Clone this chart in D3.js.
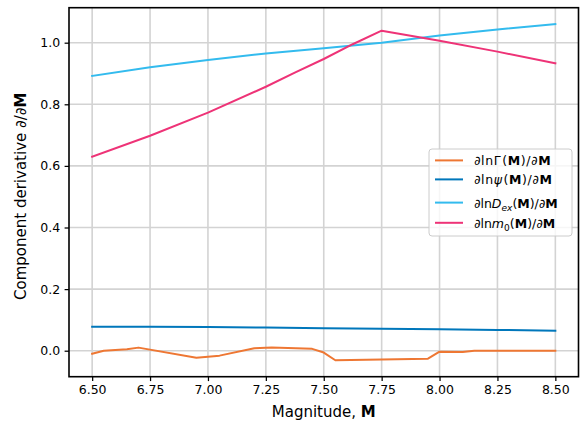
<!DOCTYPE html>
<html>
<head>
<meta charset="utf-8">
<script src="https://cdn.jsdelivr.net/npm/d3@7"></script>
<style>
  html, body { margin: 0; padding: 0; background: #fff; }
  svg { display: block; font-family: "DejaVu Sans", sans-serif; }
</style>
</head>
<body>
<svg id="chart" width="580" height="424"></svg>
<script>
// Magnitude grid shared by the smooth components
const magnitudes = [6.5, 6.75, 7.0, 7.25, 7.5, 7.75, 8.0, 8.25, 8.5];

// d ln psi(M) / dM
const psiDeriv = [0.078, 0.0775, 0.077, 0.075, 0.073, 0.0715, 0.070, 0.0675, 0.065];

// d ln D_ex(M) / dM
const dexDeriv = [0.892, 0.920, 0.944, 0.965, 0.982, 1.000, 1.023, 1.043, 1.060];

// d ln m0(M) / dM (peaks at 7.75)
const m0Mag   = [6.5, 6.75, 7.0, 7.25, 7.375, 7.5, 7.625, 7.75, 8.0, 8.25, 8.5];
const m0Deriv = [0.630, 0.698, 0.773, 0.857, 0.903, 0.947, 0.995, 1.039, 1.006, 0.971, 0.933];

// d ln Gamma(M) / dM (piecewise, noisy)
const gammaMag   = [6.5, 6.55, 6.65, 6.70, 6.95, 7.05, 7.20, 7.275, 7.45, 7.50, 7.55, 7.95, 8.00, 8.10, 8.15, 8.5];
const gammaDeriv = [-0.010, 0.0, 0.005, 0.010, -0.023, -0.016, 0.008, 0.010, 0.006, -0.006, -0.031, -0.026, -0.003, -0.004, 0.0, 0.0];

const xTicks = [6.5, 6.75, 7.0, 7.25, 7.5, 7.75, 8.0, 8.25, 8.5];
const yTicks = [0.0, 0.2, 0.4, 0.6, 0.8, 1.0];

const colors = { gamma: "#EE7733", psi: "#0077BB", dex: "#33BBEE", m0: "#EE3377" };

const svg = d3.select("#chart");
const plot = { left: 69, right: 578.5, top: 7.7, bottom: 376.7 };

const x = d3.scaleLinear().domain([6.4, 8.6]).range([plot.left, plot.right]);
const y = d3.scaleLinear().domain([-0.0844, 1.1136]).range([plot.bottom, plot.top]);

// Grid
const grid = svg.append("g");
grid.selectAll("line.vx").data(xTicks).join("line")
  .attr("x1", d => x(d)).attr("x2", d => x(d))
  .attr("y1", plot.top).attr("y2", plot.bottom)
  .attr("stroke", "#d3d3d3").attr("stroke-width", 1.6);
grid.selectAll("line.hy").data(yTicks).join("line")
  .attr("y1", d => y(d)).attr("y2", d => y(d))
  .attr("x1", plot.left).attr("x2", plot.right)
  .attr("stroke", "#d3d3d3").attr("stroke-width", 1.6);

// Series lines
const line = d3.line().x(d => x(d[0])).y(d => y(d[1]));
const series = [
  { key: "gamma", xs: gammaMag, ys: gammaDeriv },
  { key: "psi",   xs: magnitudes, ys: psiDeriv },
  { key: "dex",   xs: magnitudes, ys: dexDeriv },
  { key: "m0",    xs: m0Mag, ys: m0Deriv }
];
series.forEach(s => {
  svg.append("path")
    .datum(s.xs.map((v, i) => [v, s.ys[i]]))
    .attr("d", line)
    .attr("fill", "none")
    .attr("stroke", colors[s.key])
    .attr("stroke-width", 2)
    .attr("stroke-linejoin", "round")
    .attr("stroke-linecap", "square");
});

// Axes
const xAxis = d3.axisBottom(x).tickValues(xTicks).tickFormat(d3.format(".2f"))
  .tickSize(4.4).tickPadding(4.4);
const yAxis = d3.axisLeft(y).tickValues(yTicks).tickFormat(d3.format(".1f"))
  .tickSize(4.4).tickPadding(4.4);

const gx = svg.append("g").attr("transform", `translate(0,${plot.bottom})`).call(xAxis);
const gy = svg.append("g").attr("transform", `translate(${plot.left},0)`).call(yAxis);
[gx, gy].forEach(g => {
  g.select(".domain").remove();
  g.selectAll(".tick line").attr("stroke", "#000").attr("stroke-width", 1.25);
  g.selectAll(".tick text").attr("fill", "#000")
    .style("font-family", "DejaVu Sans").style("font-size", "12.5px");
});

// Spines
svg.append("rect")
  .attr("x", plot.left).attr("y", plot.top)
  .attr("width", plot.right - plot.left).attr("height", plot.bottom - plot.top)
  .attr("fill", "none").attr("stroke", "#000").attr("stroke-width", 1.6);

// Axis labels
const xl = svg.append("text")
  .attr("x", (plot.left + plot.right) / 2).attr("y", 417)
  .attr("text-anchor", "middle").style("font-size", "15px");
xl.append("tspan").text("Magnitude, ");
xl.append("tspan").attr("font-weight", "bold").text("M");

const yl = svg.append("text")
  .attr("transform", `translate(26,${(plot.top + plot.bottom) / 2 + 4}) rotate(-90)`)
  .attr("text-anchor", "middle").style("font-size", "15px");
yl.append("tspan").text("Component derivative ∂/∂");
yl.append("tspan").attr("font-weight", "bold").text("M");

// Legend (mathtext-style labels built from tspans)
const legendRows = [
  { key: "gamma", spacing: 0.6, parts: [["∂ln", ""], ["Γ", ""], ["(", "g"], ["M", "b"], [")/∂", ""], ["M", "b"]] },
  { key: "psi",   spacing: 0.6, parts: [["∂ln", ""], ["ψ", "i"], ["(", "g"], ["M", "b"], [")/∂", ""], ["M", "b"]] },
  { key: "dex",   spacing: 0,   parts: [["∂ln", ""], ["D", "i"], ["ex", "isub"], ["(", "up"], ["M", "b"], [")/∂", ""], ["M", "b"]] },
  { key: "m0",    spacing: 0,   parts: [["∂ln", ""], ["m", "i"], ["0", "sub"], ["(", "up"], ["M", "b"], [")/∂", ""], ["M", "b"]] }
];
const rowBase = [165.3, 184.3, 207.5, 227.7];

const lg = svg.append("g");
lg.append("rect")
  .attr("x", 429).attr("y", 149).attr("width", 143).attr("height", 87)
  .attr("rx", 3).attr("fill", "#fff").attr("fill-opacity", 0.8)
  .attr("stroke", "#cccccc").attr("stroke-width", 1);

legendRows.forEach((r, i) => {
  const base = rowBase[i];
  const cy = base - 4.9;
  lg.append("line")
    .attr("x1", 435).attr("x2", 463).attr("y1", cy).attr("y2", cy)
    .attr("stroke", colors[r.key]).attr("stroke-width", 2);
  const t = lg.append("text").attr("x", 474).attr("y", base)
    .style("font-size", "12.5px").style("letter-spacing", r.spacing + "px");
  r.parts.forEach(([txt, st]) => {
    const sp = t.append("tspan").text(txt);
    if (st === "b") sp.attr("font-weight", "bold");
    if (st === "i") sp.attr("font-style", "italic");
    if (st === "g") sp.attr("dx", 1);
    if (st === "isub") sp.attr("font-style", "italic").attr("font-size", "9px").attr("dy", 3);
    if (st === "sub") sp.attr("font-size", "9px").attr("dy", 3);
    if (st === "up") sp.attr("dy", -3);
  });
});
</script>
</body>
</html>
